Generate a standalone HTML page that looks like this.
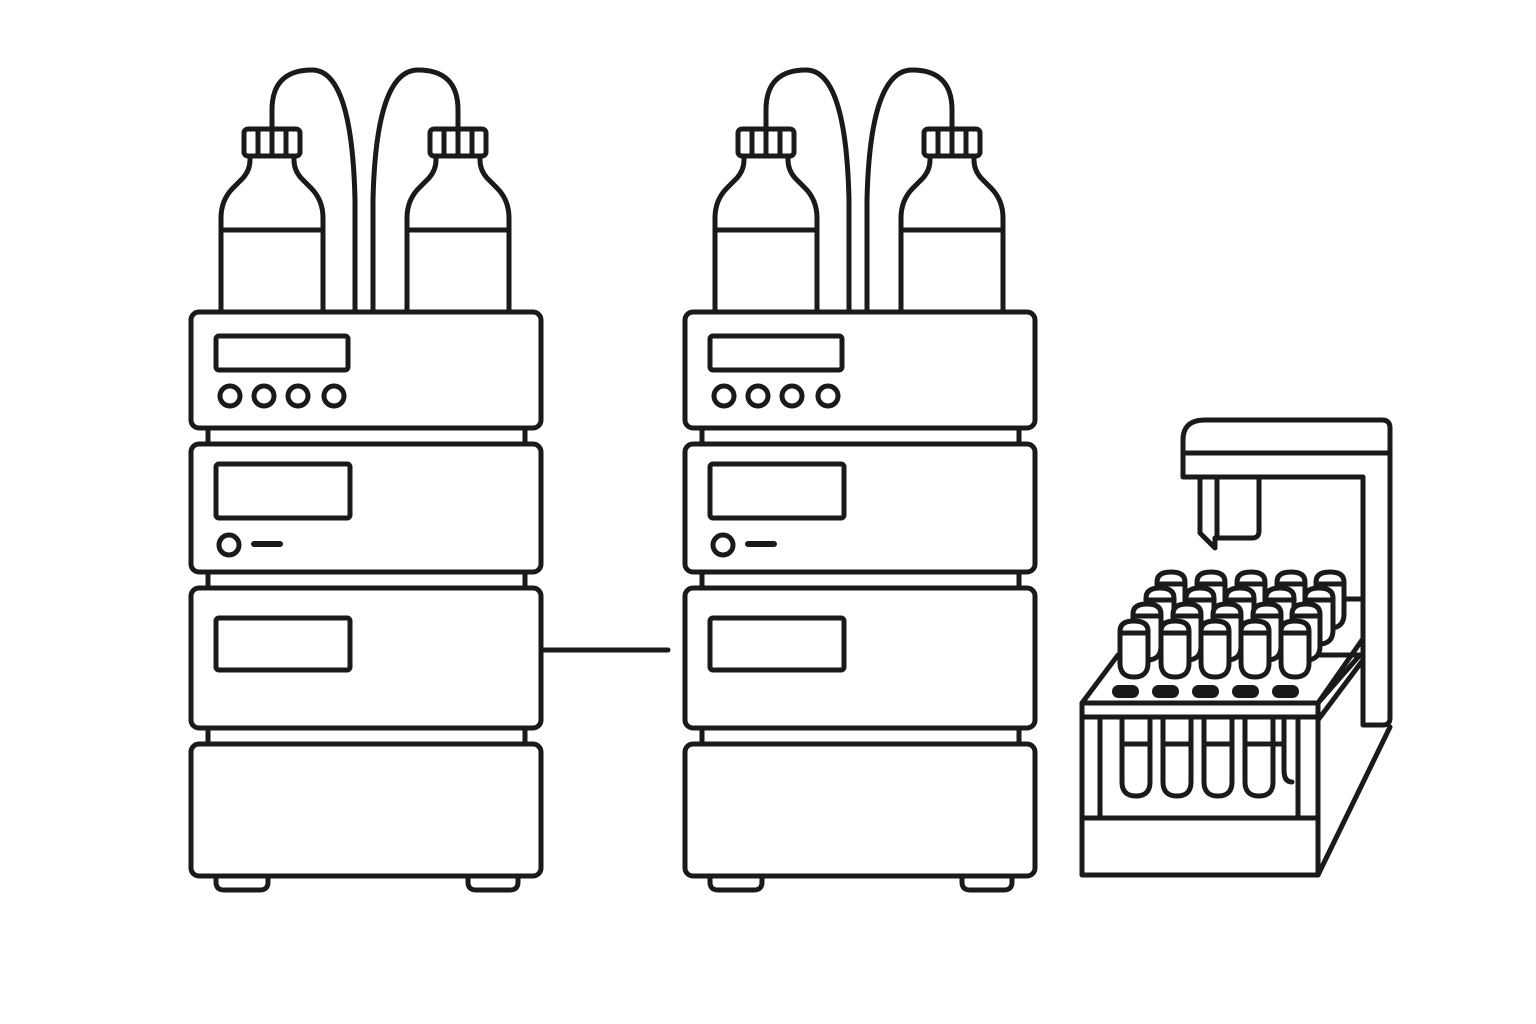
<!DOCTYPE html>
<html><head><meta charset="utf-8"><style>html,body{margin:0;padding:0;background:#fff}svg{display:block}</style></head>
<body>
<svg width="1536" height="1024" viewBox="0 0 1536 1024" xmlns="http://www.w3.org/2000/svg">
<defs>
<g id="bottle">
  <path d="M0,310 V218 Q0,200 12,188 L22,178 Q29,170 29,160 V156 H73 V160 Q73,170 80,178 L90,188 Q102,200 102,218 V310" />
  <line x1="0" y1="230" x2="102" y2="230"/>
  <rect x="23" y="129" width="56" height="27" rx="4"/>
  <line x1="37" y1="131" x2="37" y2="154"/>
  <line x1="51" y1="131" x2="51" y2="154"/>
  <line x1="65" y1="131" x2="65" y2="154"/>
</g>
<g id="stack">
  <use href="#bottle" x="221"/>
  <use href="#bottle" x="407"/>
  <path d="M272,129 V110 Q272,70 312,70 Q352,70 355,200 V310"/>
  <path d="M373,310 V200 Q376,70 418,70 Q458,70 458,110 V129"/>
  <line x1="208" y1="428" x2="208" y2="444"/><line x1="525" y1="428" x2="525" y2="444"/>
  <line x1="208" y1="572" x2="208" y2="588"/><line x1="525" y1="572" x2="525" y2="588"/>
  <line x1="208" y1="728" x2="208" y2="744"/><line x1="525" y1="728" x2="525" y2="744"/>
  <rect x="191" y="312" width="350" height="116" rx="8"/>
  <rect x="216" y="336" width="132" height="34" rx="3"/>
  <circle cx="230" cy="396" r="10"/><circle cx="264" cy="396" r="10"/><circle cx="298" cy="396" r="10"/><circle cx="334" cy="396" r="10"/>
  <rect x="191" y="444" width="350" height="128" rx="8"/>
  <rect x="216" y="464" width="134" height="54" rx="3"/>
  <circle cx="229" cy="545" r="10"/>
  <line x1="254" y1="544" x2="280" y2="544" stroke-width="6"/>
  <rect x="191" y="588" width="350" height="140" rx="8"/>
  <rect x="216" y="618" width="134" height="52" rx="3"/>
  <rect x="191" y="744" width="350" height="132" rx="8"/>
  <path d="M216,876 V882 Q216,890 224,890 H260 Q268,890 268,882 V876"/>
  <path d="M468,876 V882 Q468,890 476,890 H510 Q518,890 518,882 V876"/>
</g>
<g id="tube">
  <path d="M0,10 Q0,0 14,0 Q28,0 28,10 V42 Q28,56 14,56 Q0,56 0,42 Z" fill="#fff"/>
  <line x1="0" y1="12" x2="28" y2="12"/>
</g>
<g id="ltube">
  <path d="M0,0 V54 Q0,68 14,68 Q28,68 28,54 V0"/>
  <line x1="0" y1="16" x2="28" y2="16"/>
</g>
</defs>
<g fill="none" stroke="#1a1a1a" stroke-width="5" stroke-linejoin="round" stroke-linecap="round">
  <use href="#stack"/>
  <use href="#stack" x="494"/>
  <line x1="541" y1="650" x2="668" y2="650"/>

  <path d="M1183,477 V440 Q1183,420 1205,420 H1382 Q1390,420 1390,428 V718 Q1390,725 1383,725 H1363 V477 Z"/>
  <line x1="1183" y1="453" x2="1390" y2="453"/>
  <path d="M1200,477 V533 L1215,548 V538 H1252 Q1259,538 1259,531 V477"/>
  <line x1="1217" y1="477" x2="1217" y2="538"/>
  <line x1="1345" y1="599" x2="1363" y2="599"/>

  <path d="M1082,703 L1118,655 H1360 L1318,703 Z" fill="#fff"/>
  <path d="M1318,703 L1362,640 M1318,720 L1363,660 M1318,875 L1390,727"/>
  <rect x="1082" y="703" width="236" height="172"/>
  <line x1="1082" y1="717" x2="1318" y2="717"/>
  <line x1="1082" y1="818" x2="1318" y2="818"/>
  <line x1="1100" y1="717" x2="1100" y2="818"/>
  <line x1="1298" y1="717" x2="1298" y2="818"/>
  <line x1="1122" y1="717" x2="1122" y2="728"/><line x1="1150" y1="717" x2="1150" y2="728"/>
  <line x1="1163" y1="717" x2="1163" y2="728"/><line x1="1191" y1="717" x2="1191" y2="728"/>
  <line x1="1204" y1="717" x2="1204" y2="728"/><line x1="1232" y1="717" x2="1232" y2="728"/>
  <line x1="1245" y1="717" x2="1245" y2="728"/><line x1="1273" y1="717" x2="1273" y2="728"/>
  <use href="#ltube" x="1122" y="728"/>
  <use href="#ltube" x="1163" y="728"/>
  <use href="#ltube" x="1204" y="728"/>
  <use href="#ltube" x="1245" y="728"/>
  <path d="M1284,717 V770 Q1284,782 1292,782"/>
  <line x1="1273" y1="744" x2="1284" y2="744"/>

  <use href="#tube" x="1157" y="572"/><use href="#tube" x="1197" y="572"/><use href="#tube" x="1237" y="572"/><use href="#tube" x="1277" y="572"/><use href="#tube" x="1316" y="572"/>
  <use href="#tube" x="1146" y="588"/><use href="#tube" x="1186" y="588"/><use href="#tube" x="1226" y="588"/><use href="#tube" x="1266" y="588"/><use href="#tube" x="1305" y="588"/>
  <use href="#tube" x="1133" y="604"/><use href="#tube" x="1173" y="604"/><use href="#tube" x="1213" y="604"/><use href="#tube" x="1253" y="604"/><use href="#tube" x="1292" y="604"/>
  <use href="#tube" x="1120" y="621"/><use href="#tube" x="1161" y="621"/><use href="#tube" x="1201" y="621"/><use href="#tube" x="1241" y="621"/><use href="#tube" x="1281" y="621"/>
</g>
<g fill="#1a1a1a">
  <rect x="1112" y="685" width="27" height="13" rx="6.5"/>
  <rect x="1152" y="685" width="27" height="13" rx="6.5"/>
  <rect x="1192" y="685" width="27" height="13" rx="6.5"/>
  <rect x="1232" y="685" width="27" height="13" rx="6.5"/>
  <rect x="1272" y="685" width="27" height="13" rx="6.5"/>
</g>
</svg>
</body></html>
